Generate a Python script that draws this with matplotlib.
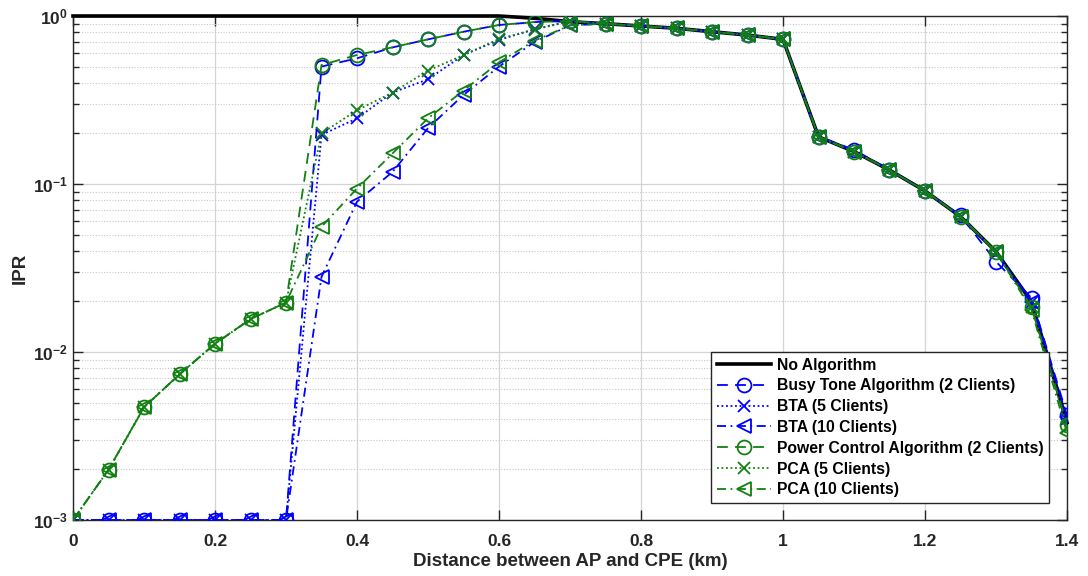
import numpy as np
import matplotlib
matplotlib.use('Agg')
import matplotlib.pyplot as plt
from matplotlib import ticker

plt.rcParams['font.family'] = ['Liberation Sans', 'DejaVu Sans']
plt.rcParams['font.weight'] = 'bold'
plt.rcParams['mathtext.fontset'] = 'custom'
plt.rcParams['mathtext.rm'] = 'Liberation Sans:bold'
plt.rcParams['mathtext.bf'] = 'Liberation Sans:bold'

# distance between AP and CPE (km)
distance = [0.0, 0.05, 0.1, 0.15, 0.2, 0.25, 0.3, 0.35, 0.4, 0.45,
            0.5, 0.55, 0.6, 0.65, 0.7, 0.75, 0.8, 0.85, 0.9, 0.95,
            1.0, 1.05, 1.1, 1.15, 1.2, 1.25, 1.3, 1.35, 1.4]

# IPR values
no_algorithm = [1.0, 1.0, 1.0, 1.0, 1.0, 1.0, 1.0, 1.0, 1.0, 1.0,
                1.0, 1.0, 1.0, 0.97, 0.925, 0.90, 0.872, 0.845, 0.806, 0.77,
                0.726, 0.191, 0.156, 0.121, 0.091, 0.064, 0.0396, 0.0199, 0.0038]

bta_2 = [0.001, 0.001, 0.001, 0.001, 0.001, 0.001, 0.001, 0.50, 0.56, 0.65,
         0.726, 0.806, 0.884, 0.92, 0.935, 0.90, 0.872, 0.845, 0.806, 0.77,
         0.726, 0.191, 0.16, 0.121, 0.091, 0.065, 0.0345, 0.021, 0.0042]
bta_5 = [0.001, 0.001, 0.001, 0.001, 0.001, 0.001, 0.001, 0.196, 0.246, 0.35,
         0.42, 0.586, 0.72, 0.835, 0.93, 0.90, 0.872, 0.845, 0.806, 0.77,
         0.726, 0.191, 0.156, 0.121, 0.091, 0.064, 0.0396, 0.0199, 0.0040]
bta_10 = [0.001, 0.001, 0.001, 0.001, 0.001, 0.001, 0.001, 0.028, 0.0785, 0.118,
          0.215, 0.339, 0.50, 0.70, 0.88, 0.90, 0.872, 0.845, 0.806, 0.77,
          0.726, 0.191, 0.156, 0.121, 0.091, 0.064, 0.0396, 0.0199, 0.0041]

pca_2 = [0.001, 0.00199, 0.00469, 0.00736, 0.0112, 0.0157, 0.0197, 0.511, 0.586, 0.651,
         0.726, 0.806, 0.884, 0.92, 0.935, 0.90, 0.872, 0.845, 0.806, 0.77,
         0.726, 0.191, 0.156, 0.121, 0.091, 0.064, 0.0396, 0.0185, 0.0037]
pca_5 = [0.001, 0.00199, 0.00469, 0.00736, 0.0112, 0.0157, 0.0197, 0.20, 0.275, 0.35,
         0.473, 0.586, 0.73, 0.83, 0.93, 0.90, 0.872, 0.845, 0.806, 0.77,
         0.726, 0.191, 0.156, 0.121, 0.091, 0.064, 0.0396, 0.0185, 0.0036]
pca_10 = [0.001, 0.00199, 0.00469, 0.00736, 0.0112, 0.0157, 0.0197, 0.0557, 0.094, 0.152,
          0.246, 0.36, 0.53, 0.713, 0.88, 0.90, 0.872, 0.845, 0.806, 0.77,
          0.726, 0.191, 0.156, 0.121, 0.091, 0.064, 0.0396, 0.0178, 0.0033]

labels = ['No Algorithm', 'Busy Tone Algorithm (2 Clients)', 'BTA (5 Clients)',
          'BTA (10 Clients)', 'Power Control Algorithm (2 Clients)',
          'PCA (5 Clients)', 'PCA (10 Clients)']

BLUE = '#0000ff'
GREEN = '#118011'

fig = plt.figure(figsize=(10.88, 5.76), dpi=100)
ax = fig.add_axes([73 / 1088, 56 / 576, 994 / 1088, 504 / 576])

ax.plot(distance, no_algorithm, color='black', linewidth=2.6, label=labels[0],
        clip_on=False, zorder=3)

series = [
    (bta_2, BLUE, (0, (6, 4)), 'o', labels[1]),
    (bta_5, BLUE, (0, (1, 1.5)), 'x', labels[2]),
    (bta_10, BLUE, (0, (5, 2.5, 1, 2.5)), '<', labels[3]),
    (pca_2, GREEN, (0, (6, 4)), 'o', labels[4]),
    (pca_5, GREEN, (0, (1, 1.5)), 'x', labels[5]),
    (pca_10, GREEN, (0, (5, 2.5, 1, 2.5)), '<', labels[6]),
]
for vals, col, ls, mk, lab in series:
    ax.plot(distance, vals, color=col, linestyle=ls, linewidth=1.3,
            marker=mk, markersize=10 if mk != 'x' else 8.5, markerfacecolor='none',
            markeredgecolor=col, markeredgewidth=1.3, label=lab, zorder=4)

ax.set_yscale('log')
ax.set_xlim(0, 1.4)
ax.set_ylim(1e-3, 1)
ax.set_xticks([0, 0.2, 0.4, 0.6, 0.8, 1.0, 1.2, 1.4])
ax.xaxis.set_major_formatter(ticker.FuncFormatter(lambda v, p: f'{v:g}'))
ax.xaxis.set_minor_locator(ticker.NullLocator())
ax.yaxis.set_major_locator(ticker.LogLocator(base=10, numticks=10))
ax.yaxis.set_minor_locator(ticker.LogLocator(base=10, subs=np.arange(2, 10), numticks=20))
ax.yaxis.set_minor_formatter(ticker.NullFormatter())
ax.yaxis.set_major_formatter(ticker.FuncFormatter(
    lambda v, p: r'$\mathbf{10^{%d}}$' % int(round(np.log10(v)))))

ax.tick_params(which='both', direction='in', top=True, right=True,
               colors='#262626', labelcolor='#262626')
ax.tick_params(which='major', length=7, width=1, labelsize=12.5)
ax.tick_params(which='minor', length=4.5, width=1)
ax.tick_params(axis='x', pad=10)

ax.grid(True, which='major', color='#d4d4d4', linestyle='-', linewidth=0.9)
ax.grid(True, which='minor', axis='y', color='#c8c8c8', linestyle=(0, (1, 1.5)),
        linewidth=0.8)
ax.set_axisbelow(True)

for s in ax.spines.values():
    s.set_color('#262626')
    s.set_linewidth(1.0)

ax.set_xlabel('Distance between AP and CPE (km)', fontsize=13.5, fontweight='bold',
              color='#262626', labelpad=3)
ax.set_ylabel('IPR', fontsize=13.5, fontweight='bold', color='#262626', labelpad=3)

leg = ax.legend(loc='lower right', bbox_to_anchor=(0.982, 0.034), borderaxespad=0,
                fontsize=11.3, fancybox=False, framealpha=1, edgecolor='#262626',
                handlelength=3.5, handletextpad=0.35, labelspacing=0.37,
                borderpad=0.35, numpoints=1)
leg.get_frame().set_linewidth(1.0)
for t in leg.get_texts():
    t.set_fontweight('bold')

fig.savefig('out.png', dpi=100)
